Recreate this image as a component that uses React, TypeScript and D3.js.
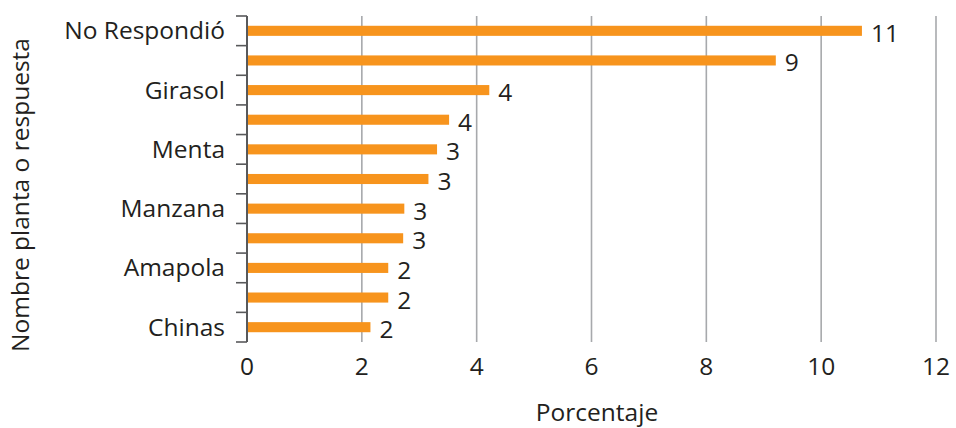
import React from "react";
import * as d3 from "d3";

const categoryIds = ["c0", "c1", "c2", "c3", "c4", "c5", "c6", "c7", "c8", "c9", "c10"];
const categoryLabels = ["No Respondió", "", "Girasol", "", "Menta", "", "Manzana", "", "Amapola", "", "Chinas"];
const values = [10.71, 9.21, 4.22, 3.52, 3.31, 3.16, 2.74, 2.72, 2.46, 2.46, 2.15];
const valueLabels = ["11", "9", "4", "4", "3", "3", "3", "3", "2", "2", "2"];
const xTicks = [0, 2, 4, 6, 8, 10, 12];
const xTitle = "Porcentaje";
const yTitle = "Nombre planta o respuesta";

const W = 956;
const H = 428;
const FONT = "'Open Sans', sans-serif";
const FS = 24.5;
const TEXT = "#231F20";

export default function App() {
  const x = d3.scaleLinear().domain([0, 12]).range([247, 936]);
  const y = d3
    .scaleBand<string>()
    .domain(categoryIds)
    .range([16, 342])
    .paddingInner(0.66)
    .paddingOuter(0.33);
  const step = y.step();
  const top = y.range()[0];
  const bottom = y.range()[1];
  const boundaries = d3.range(categoryIds.length + 1).map((i) => top + i * step);

  return (
    <div style={{ position: "absolute", left: 0, top: 0 }}>
      <svg width={W} height={H} style={{ display: "block" }} fontFamily={FONT}>
        <rect width={W} height={H} fill="#fff" />
        {/* gridlines */}
        {xTicks.filter((t) => t > 0).map((t) => (
          <line key={"g" + t} x1={x(t)} x2={x(t)} y1={top} y2={bottom} stroke="#A7A9AC" strokeWidth={1.6} />
        ))}
        {/* bars */}
        {categoryIds.map((id, i) => (
          <rect key={"b" + id} x={x(0)} y={y(id)!} width={x(values[i]) - x(0)} height={y.bandwidth()} fill="#F7941D" />
        ))}
        {/* y axis */}
        <line x1={x(0)} x2={x(0)} y1={top} y2={bottom} stroke="#58595B" strokeWidth={2} />
        {boundaries.map((b, i) => (
          <line key={"t" + i} x1={x(0) - 11} x2={x(0)} y1={b} y2={b} stroke="#58595B" strokeWidth={1.6} />
        ))}
        {/* category labels */}
        {categoryIds.map((id, i) => (
          <text key={"l" + id} x={225} y={y(id)! + y.bandwidth() / 2 + 8.5} textAnchor="end" fontSize={FS} fill={TEXT}>
            {categoryLabels[i]}
          </text>
        ))}
        {/* value labels */}
        {categoryIds.map((id, i) => (
          <text key={"v" + id} x={x(values[i]) + 9} y={y(id)! + y.bandwidth() / 2 + 11} fontSize={FS} fill={TEXT}>
            {valueLabels[i]}
          </text>
        ))}
        {/* x tick labels */}
        {xTicks.map((t) => (
          <text key={"x" + t} x={x(t)} y={375} textAnchor="middle" fontSize={FS} fill={TEXT}>
            {t}
          </text>
        ))}
        <text x={597} y={421} textAnchor="middle" fontSize={FS} fill={TEXT}>
          {xTitle}
        </text>
        <text transform={`translate(29,195) rotate(-90)`} textAnchor="middle" fontSize={FS} fill={TEXT}>
          {yTitle}
        </text>
      </svg>
    </div>
  );
}
